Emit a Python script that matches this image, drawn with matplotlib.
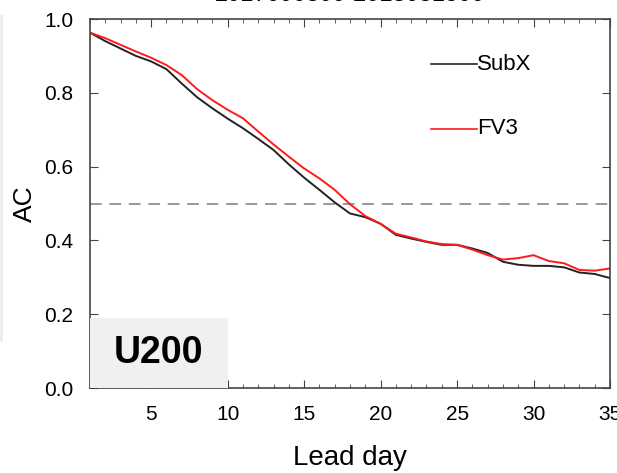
import matplotlib
matplotlib.use("Agg")
from matplotlib import pyplot as plt
from matplotlib.patches import Rectangle
from matplotlib.ticker import MultipleLocator

plt.rcParams["font.family"] = ["Liberation Sans Narrow", "Liberation Sans", "DejaVu Sans"]

# lead days and anomaly correlation
lead_day = list(range(1, 36))
subx = [0.963, 0.94, 0.92, 0.90, 0.885, 0.864, 0.825, 0.788, 0.758, 0.73,
        0.704, 0.675, 0.645, 0.606, 0.57, 0.537, 0.503, 0.473, 0.463, 0.445,
        0.415, 0.405, 0.396, 0.388, 0.388, 0.378, 0.366, 0.342, 0.334, 0.331,
        0.331, 0.327, 0.313, 0.309, 0.298]
fv3 = [0.963, 0.948, 0.93, 0.912, 0.895, 0.875, 0.848, 0.81, 0.78, 0.754,
       0.731, 0.695, 0.66, 0.627, 0.595, 0.568, 0.537, 0.498, 0.466, 0.445,
       0.418, 0.408, 0.397, 0.39, 0.388, 0.375, 0.36, 0.348, 0.352, 0.36,
       0.344, 0.338, 0.32, 0.318, 0.324]
x_ticks = [5, 10, 15, 20, 25, 30, 35]
y_ticks = [0.0, 0.2, 0.4, 0.6, 0.8, 1.0]
title = "2017090300-2018031500"

fig = plt.figure(figsize=(6.17, 4.73), dpi=100)
ax = fig.add_axes([0.1459, 0.1797, 0.8428, 0.7801])

ax.axhline(0.5, color="#999999", lw=1.4, ls=(0, (6, 4)))
ax.plot(lead_day, subx, color="#222222", lw=1.4)
ax.plot(lead_day, fv3, color="#ff1a1a", lw=1.4)

# legend drawn as in the original (line then label)
ax.plot([23.3, 26.3], [0.878, 0.878], color="#222222", lw=1.2)
ax.text(26.3, 0.878, "SubX", fontsize=16, va="center", ha="left")
ax.plot([23.3, 26.3], [0.703, 0.703], color="#ff1a1a", lw=1.2)
ax.text(26.3, 0.703, "FV3", fontsize=16, va="center", ha="left")

ax.set_xlim(1, 35)
ax.set_ylim(0, 1)
ax.set_xticks(x_ticks)
ax.set_yticks(y_ticks)
ax.set_yticklabels([f"{v:.1f}" for v in y_ticks])
ax.xaxis.set_minor_locator(MultipleLocator(1))
ax.tick_params(which="both", direction="in", top=True, right=True,
               labelsize=15, color="#444444")
ax.tick_params(which="major", length=6, pad=12)
ax.tick_params(which="minor", length=3)
for s in ax.spines.values():
    s.set_color("#444444")
    s.set_linewidth(1.2)

ax.set_xlabel("Lead day", fontsize=20, labelpad=15)
ax.set_ylabel("AC", fontsize=19, labelpad=5)

# pasted-on panel label
ax.add_patch(Rectangle((0.0, 0.0), 0.265, 0.19, transform=ax.transAxes,
                       facecolor="#f0f0f0", edgecolor="none", zorder=3))
ax.text(0.131, 0.095, "U200", transform=ax.transAxes, fontsize=27,
        fontweight="bold", family=["Liberation Sans", "DejaVu Sans"],
        ha="center", va="center", zorder=4)

# title mostly cut off by the top of the image
fig.text(0.567, 1.0 - 6 / 473, title, fontsize=17, ha="center", va="bottom")

# faint strip of the neighbouring panel at the left edge
fig.patches.append(Rectangle((0, 1 - 342 / 473), 3 / 617, 327 / 473,
                             transform=fig.transFigure, facecolor="#eeeeee",
                             edgecolor="none"))

fig.savefig("out.png", dpi=100)
